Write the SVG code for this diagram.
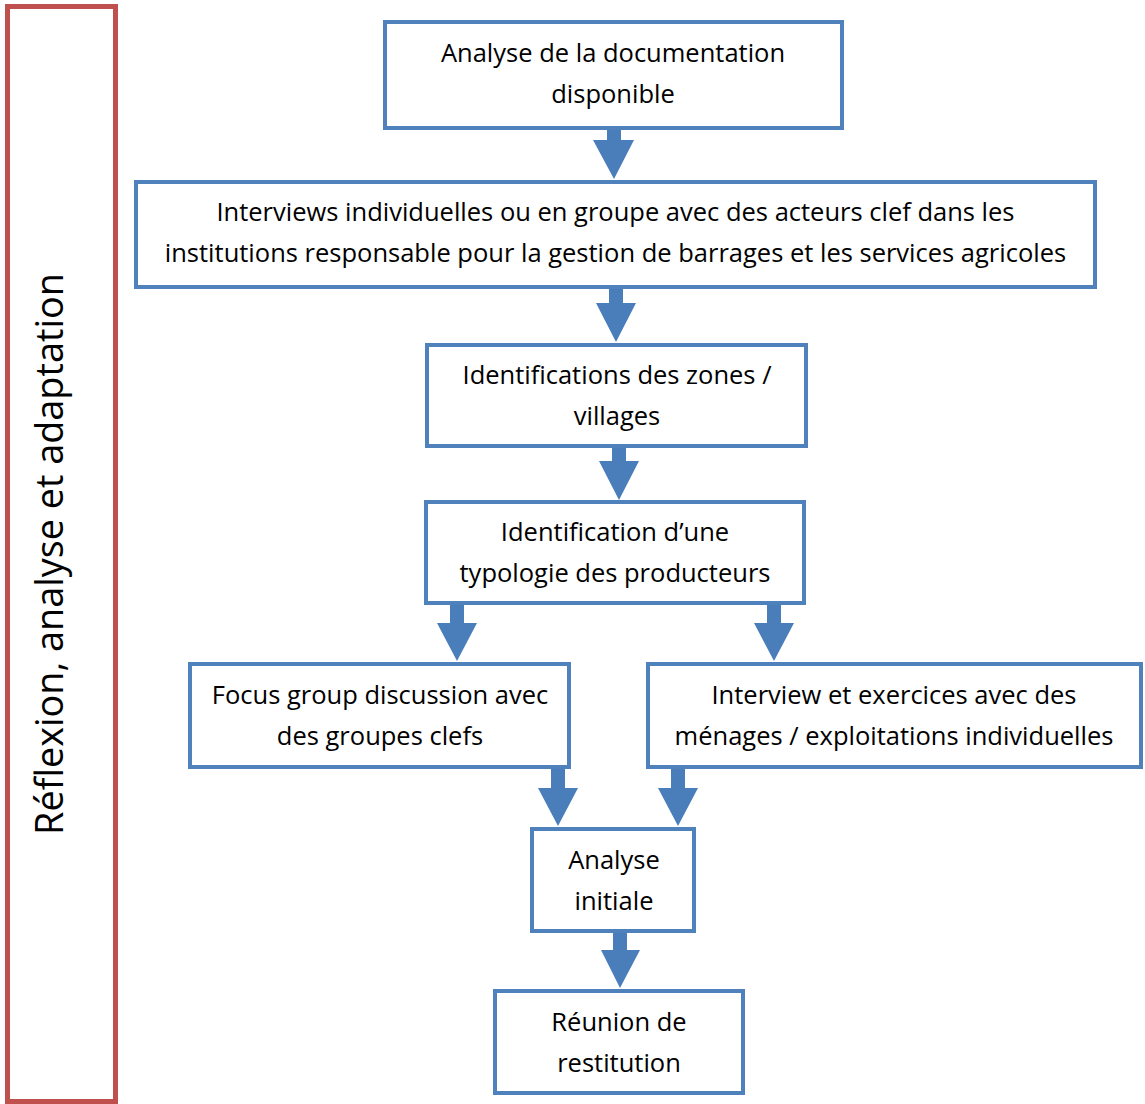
<svg xmlns="http://www.w3.org/2000/svg" width="1145" height="1104" viewBox="0 0 1145 1104">
<style>
.box{fill:#fff;stroke:#4f81bd;stroke-width:4}
.frame{fill:#fff;stroke:#c0504d;stroke-width:5}
.t{font-family:"Open Sans","Noto Sans",sans-serif;font-size:25.5px;fill:#000;text-anchor:middle}
.v{font-family:"Open Sans","Noto Sans",sans-serif;font-size:37.8px;fill:#000;text-anchor:middle}
.arr{fill:#4a7ebb}
</style>
<g id="frame">
<rect class="frame" x="7.5" y="6.5" width="108" height="1095"/>
<text class="v" transform="translate(63,554) rotate(-90)">Réflexion, analyse et adaptation</text>
</g>
<g id="connectors">
<path class="arr" d="M607,128 H621 V140 H634 L614,179 L593,140 H607 Z"/>
<path class="arr" d="M609,287 H623 V303 H636 L616,342 L596,303 H609 Z"/>
<path class="arr" d="M612,446 H626 V461 H639 L619,500 L599,461 H612 Z"/>
<path class="arr" d="M450,603 H464 V623 H477 L457,661 L437,623 H450 Z"/>
<path class="arr" d="M767,603 H781 V623 H794 L774,661 L754,623 H767 Z"/>
<path class="arr" d="M551,767 H565 V788 H578 L558,826 L538,788 H551 Z"/>
<path class="arr" d="M671,767 H685 V788 H698 L678,826 L658,788 H671 Z"/>
<path class="arr" d="M613,931 H627 V950 H640 L620,988 L601,950 H613 Z"/>
</g>
<g id="n1">
<rect class="box" x="385" y="22" width="457" height="106"/>
<text class="t" x="613" y="62">Analyse de la documentation</text>
<text class="t" x="613" y="103">disponible</text>
</g>
<g id="n2">
<rect class="box" x="136" y="182" width="959" height="105"/>
<text class="t" x="615.5" y="221">Interviews individuelles ou en groupe avec des acteurs clef dans les</text>
<text class="t" x="615.5" y="262">institutions responsable pour la gestion de barrages et les services agricoles</text>
</g>
<g id="n3">
<rect class="box" x="427" y="345" width="379" height="101"/>
<text class="t" x="617" y="384">Identifications des zones /</text>
<text class="t" x="617" y="425">villages</text>
</g>
<g id="n4">
<rect class="box" x="426" y="502" width="378" height="101"/>
<text class="t" x="615" y="541">Identification d’une</text>
<text class="t" x="615" y="582">typologie des producteurs</text>
</g>
<g id="n5">
<rect class="box" x="190" y="664" width="379" height="103"/>
<text class="t" x="380" y="704">Focus group discussion avec</text>
<text class="t" x="380" y="745">des groupes clefs</text>
</g>
<g id="n6">
<rect class="box" x="648" y="664" width="493" height="103"/>
<text class="t" x="894" y="704">Interview et exercices avec des</text>
<text class="t" x="894" y="745">ménages / exploitations individuelles</text>
</g>
<g id="n7">
<rect class="box" x="532" y="829" width="162" height="102"/>
<text class="t" x="614" y="869">Analyse</text>
<text class="t" x="614" y="910">initiale</text>
</g>
<g id="n8">
<rect class="box" x="495" y="991" width="248" height="102"/>
<text class="t" x="619" y="1031">Réunion de</text>
<text class="t" x="619" y="1072">restitution</text>
</g>
</svg>
